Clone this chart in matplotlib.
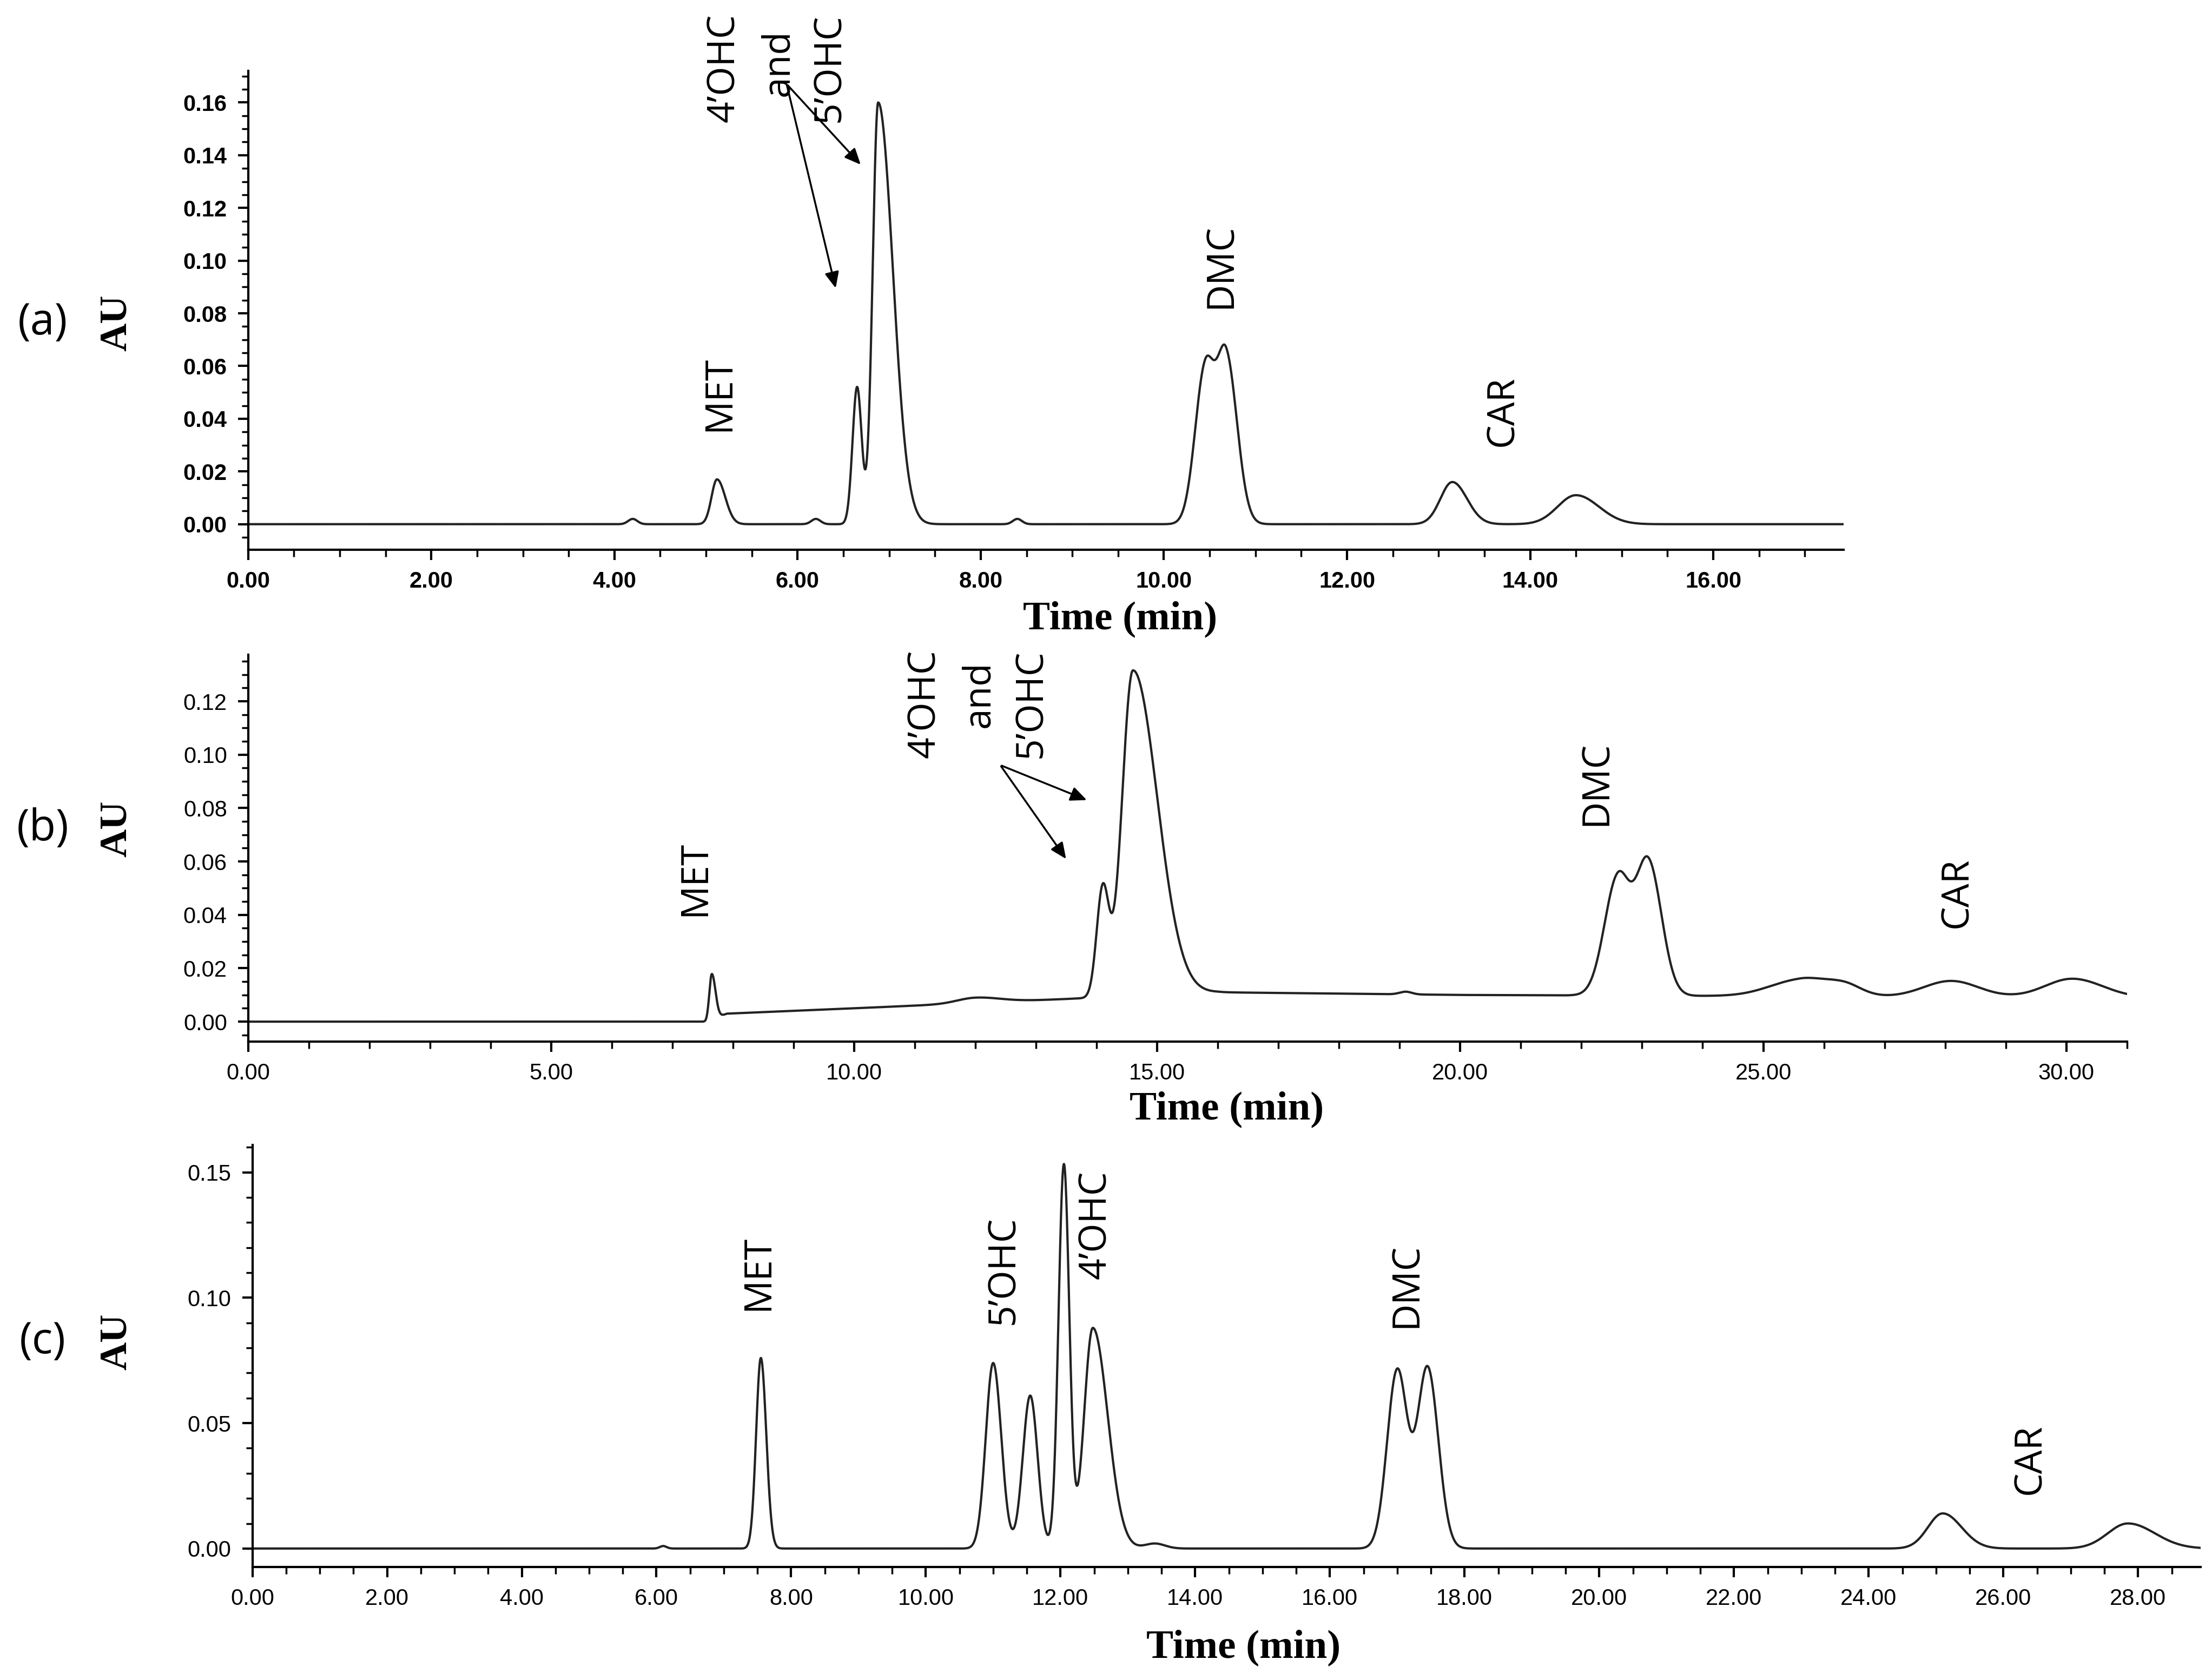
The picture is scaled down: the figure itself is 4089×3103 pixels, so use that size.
import numpy as np
import matplotlib
matplotlib.use("Agg")
import matplotlib.pyplot as plt
from matplotlib.ticker import MultipleLocator, FormatStrFormatter

# peak tables: centre (min), height (AU), left width, right width
a_center = [4.20, 5.12, 6.20, 6.65, 6.88, 8.40, 10.45, 10.68, 13.15, 14.50]
a_height = [0.002, 0.017, 0.002, 0.052, 0.160, 0.002, 0.058, 0.063, 0.016, 0.011]
a_wleft = [0.05, 0.06, 0.05, 0.05, 0.06, 0.05, 0.11, 0.10, 0.13, 0.20]
a_wright = [0.05, 0.09, 0.05, 0.05, 0.16, 0.05, 0.10, 0.12, 0.16, 0.25]
a_base_t = [0.0, 17.42]
a_base_v = [0.0, 0.0]
a_end = 17.42

b_center = [7.65, 12.0, 14.10, 14.60, 19.1, 22.60, 23.10, 25.6, 26.3, 28.1, 30.1]
b_height = [0.017, 0.002, 0.040, 0.122, 0.001, 0.044, 0.050, 0.006, 0.005, 0.006, 0.007]
b_wleft = [0.04, 0.30, 0.10, 0.18, 0.10, 0.22, 0.20, 0.50, 0.35, 0.45, 0.45]
b_wright = [0.06, 0.40, 0.10, 0.40, 0.10, 0.20, 0.22, 0.35, 0.30, 0.45, 0.50]
b_base_t = [0.0, 7.55, 7.9, 10.0, 13.0, 14.0, 16.0, 20.0, 31.0]
b_base_v = [0.0, 0.0, 0.003, 0.005, 0.008, 0.009, 0.011, 0.010, 0.009]
b_end = 31.0

c_center = [6.1, 7.55, 11.00, 11.55, 12.05, 12.48, 13.4, 17.00, 17.45, 25.10, 27.85]
c_height = [0.001, 0.076, 0.074, 0.061, 0.153, 0.088, 0.002, 0.071, 0.072, 0.014, 0.010]
c_wleft = [0.05, 0.07, 0.11, 0.11, 0.08, 0.13, 0.15, 0.15, 0.15, 0.22, 0.30]
c_wright = [0.05, 0.08, 0.12, 0.11, 0.08, 0.22, 0.15, 0.15, 0.16, 0.28, 0.40]
c_base_t = [0.0, 28.93]
c_base_v = [0.0, 0.0]
c_end = 28.93


def trace(center, height, wl, wr, bt, bv, end):
    t = np.linspace(0, end, 6000)
    y = np.interp(t, bt, bv)
    for c, h, l, r in zip(center, height, wl, wr):
        w = np.where(t < c, l, r)
        y = y + h * np.exp(-0.5 * ((t - c) / w) ** 2)
    return t, y


W, H = 1560.0, 1185.0
fig = plt.figure(figsize=(40.89, 31.03), dpi=100)

panels = [
    dict(rect=[175 / W, 1 - 388 / H, 1125 / W, 338 / H], xlim=(0, 17.42), ylim=(-0.0097, 0.172),
         xmaj=2, xmin=0.5, ymaj=0.02, ymin=0.005, yfmt="%.2f", bold=True,
         data=(a_center, a_height, a_wleft, a_wright, a_base_t, a_base_v, a_end),
         tag="(a)", tagy=1 - 228 / H, timepos=(790 / W, 1 - 437 / H)),
    dict(rect=[175 / W, 1 - 735 / H, 1325 / W, 273 / H], xlim=(0, 31.0), ylim=(-0.0074, 0.1375),
         xmaj=5, xmin=1, ymaj=0.02, ymin=0.005, yfmt="%.2f", bold=False,
         data=(b_center, b_height, b_wleft, b_wright, b_base_t, b_base_v, b_end),
         tag="(b)", tagy=1 - 585 / H, timepos=(865 / W, 1 - 783 / H)),
    dict(rect=[178 / W, 1 - 1106 / H, 1374 / W, 298 / H], xlim=(0, 28.93), ylim=(-0.0074, 0.161),
         xmaj=2, xmin=0.5, ymaj=0.05, ymin=0.01, yfmt="%.2f", bold=False,
         data=(c_center, c_height, c_wleft, c_wright, c_base_t, c_base_v, c_end),
         tag="(c)", tagy=1 - 947 / H, timepos=(877 / W, 1 - 1163 / H)),
]

axes = []
for p in panels:
    ax = fig.add_axes(p["rect"])
    t, y = trace(*p["data"])
    ax.plot(t, y, color="#222222", lw=3)
    ax.set_xlim(*p["xlim"])
    ax.set_ylim(*p["ylim"])
    for s in ("top", "right"):
        ax.spines[s].set_visible(False)
    for s in ("left", "bottom"):
        ax.spines[s].set_linewidth(3)
    ax.xaxis.set_major_locator(MultipleLocator(p["xmaj"]))
    ax.xaxis.set_minor_locator(MultipleLocator(p["xmin"]))
    ax.yaxis.set_major_locator(MultipleLocator(p["ymaj"]))
    ax.yaxis.set_minor_locator(MultipleLocator(p["ymin"]))
    ax.xaxis.set_major_formatter(FormatStrFormatter("%.2f"))
    ax.yaxis.set_major_formatter(FormatStrFormatter(p["yfmt"]))
    ax.tick_params(which="major", length=14, width=3, labelsize=30, pad=14)
    ax.tick_params(which="minor", length=9, width=2.5)
    for lab in ax.get_xticklabels() + ax.get_yticklabels():
        lab.set_fontfamily("Liberation Sans")
        lab.set_fontweight("bold" if p["bold"] else "normal")
    fig.text(30 / W, p["tagy"], p["tag"], fontsize=58, family="Open Sans", va="center", ha="center")
    fig.text(82 / W, p["tagy"], "AU", fontsize=52, family="Liberation Serif", weight="bold",
             rotation=90, va="center", ha="center")
    fig.text(p["timepos"][0], p["timepos"][1], "Time (min)", fontsize=54, family="Liberation Serif",
             weight="bold", ha="center", va="center")
    axes.append(ax)

lab_kw = dict(rotation=90, fontsize=50, family="Open Sans", ha="center", va="center", clip_on=False)
arrow_kw = dict(arrowstyle="-|>,head_length=1.8,head_width=0.8", color="black", lw=2.5)

ax = axes[0]
ax.text(5.15, 0.0496, "MET", **lab_kw)
ax.text(5.20, 0.173, "4\u2019OHC", **lab_kw)
ax.text(5.79, 0.175, "and", **lab_kw)
ax.text(6.35, 0.173, "5\u2019OHC", **lab_kw)
ax.text(10.63, 0.098, "DMC", **lab_kw)
ax.text(13.70, 0.043, "CAR", **lab_kw)
for end in [(6.42, 0.089), (6.70, 0.136)]:
    ax.annotate("", xy=end, xytext=(5.88, 0.167), arrowprops=arrow_kw, annotation_clip=False)

ax = axes[1]
ax.text(7.38, 0.0536, "MET", **lab_kw)
ax.text(11.17, 0.119, "4\u2019OHC", **lab_kw)
ax.text(12.06, 0.1227, "and", **lab_kw)
ax.text(12.93, 0.119, "5\u2019OHC", **lab_kw)
ax.text(22.25, 0.0892, "DMC", **lab_kw)
ax.text(28.20, 0.0483, "CAR", **lab_kw)
for end in [(13.51, 0.0605), (13.86, 0.0828)]:
    ax.annotate("", xy=end, xytext=(12.41, 0.0961), arrowprops=arrow_kw, annotation_clip=False)

ax = axes[2]
ax.text(7.52, 0.110, "MET", **lab_kw)
ax.text(11.16, 0.111, "5\u2019OHC", **lab_kw)
ax.text(12.53, 0.129, "4\u2019OHC", **lab_kw)
ax.text(17.14, 0.105, "DMC", **lab_kw)
ax.text(26.40, 0.0357, "CAR", **lab_kw)

fig.savefig("out.png", dpi=100)
